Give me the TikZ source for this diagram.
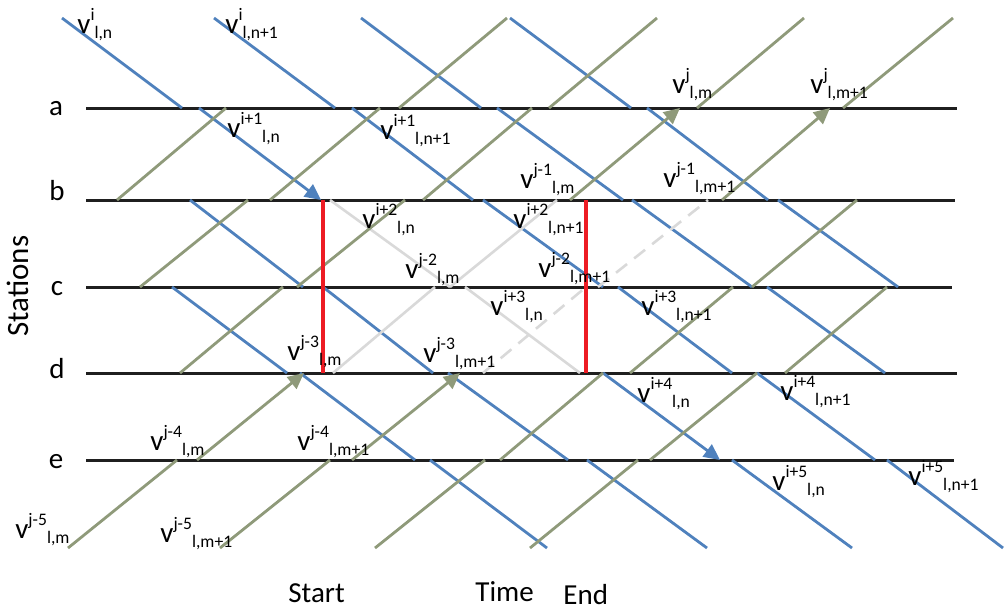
\documentclass[tikz,border=0pt]{standalone}
\usepackage{fontspec}
\setmainfont{Carlito}
\usetikzlibrary{arrows.meta}
\definecolor{trainblue}{RGB}{79,129,189}
\definecolor{trainolive}{RGB}{143,154,122}
\definecolor{cutred}{RGB}{237,28,36}
\definecolor{ghostgray}{RGB}{217,217,217}
\newcommand{\scriptsz}{\fontsize{8.8}{9}\selectfont}
\newcommand{\vlab}[2]{v\raisebox{6.5pt}{\scriptsz #1}\raisebox{-2.5pt}{\scriptsz #2}}

\begin{document}
\begin{tikzpicture}[x=0.5pt,y=-0.5pt,font=\fontsize{14.5}{16}\selectfont,
    every node/.style={inner sep=0pt},
    station/.style={line width=1.5pt,black!88},
    blueleg/.style={line width=1.4pt,trainblue},
    greenleg/.style={line width=1.4pt,trainolive},
    ghostleg/.style={line width=1.3pt,ghostgray},
    cutline/.style={line width=2.2pt,cutred},
    arrowend/.style={-{Triangle[length=8pt,width=7.5pt]}},
    vlabel/.style={anchor=base west}]
    \useasboundingbox (0,0) rectangle (1004,611);
    % stations
    \node[anchor=base] (sa) at (56,115) {a};
    \node[anchor=base] (sb) at (57,200) {b};
    \node[anchor=base] (sc) at (57,295) {c};
    \node[anchor=base] (sd) at (57,378) {d};
    \node[anchor=base] (se) at (56,468) {e};
    \node[rotate=90,font=\fontsize{15.5}{17}\selectfont] (stations) at (18,286) {Stations};
    \draw[station] (86,108) -- (957,108);
    \draw[station] (86,200) -- (955,200);
    \draw[station] (86,287) -- (952,287);
    \draw[station] (86,373) -- (957,373);
    \draw[station] (86,460) -- (954,460);
    % trains running down
    \draw[blueleg,arrowend] (62,18) -- (182,108) (199,108) -- (321,200);
    \draw[ghostleg] (330,200) -- (450,287) (465,287) -- (580,373);
    \draw[blueleg,arrowend] (603,373) -- (720,460);
    \draw[blueleg] (732,460) -- (852,548);
    \draw[blueleg] (214,18) -- (335,108) (352,108) -- (473,200) (483,200) -- (603,287)
      (618,287) -- (732,373) (757,373) -- (875,460) (887,460) -- (1003,548);
    \draw[blueleg] (361,18) -- (481,108) (497,108) -- (623,200) (632,200) -- (752,287)
      (767,287) -- (885,373);
    \draw[blueleg] (510,18) -- (631,108) (647,108) -- (768,200) (778,200) -- (898,287);
    \draw[blueleg] (190,200) -- (303,287) (323,287) -- (433,373) (448,373) -- (568,460)
      (587,460) -- (707,548);
    \draw[blueleg] (172,287) -- (287,373) (300,373) -- (415,460) (430,460) -- (547,548);
    % trains running up
    \draw[greenleg,arrowend] (68,548) -- (177,460) (197,460) -- (304,373);
    \draw[ghostleg] (333,373) -- (435,287) (450,287) -- (557,200);
    \draw[greenleg,arrowend] (570,200) -- (680,108);
    \draw[greenleg] (697,108) -- (804,18);
    \draw[greenleg,arrowend] (220,548) -- (330,460) (352,460) -- (460,373);
    \draw[ghostleg,dash pattern=on 7pt off 4.5pt] (483,373) -- (586,287) (598,287) -- (708,200);
    \draw[greenleg,arrowend] (722,200) -- (830,108);
    \draw[greenleg] (843,108) -- (953,18);
    \draw[greenleg] (375,548) -- (485,460) (500,460) -- (603,373) (630,373) -- (733,287)
      (752,287) -- (857,200);
    \draw[greenleg] (530,548) -- (638,460) (650,460) -- (757,373) (785,373) -- (887,287);
    \draw[greenleg] (180,373) -- (283,287) (297,287) -- (405,200) (423,200) -- (532,108)
      (549,108) -- (657,18);
    \draw[greenleg] (140,287) -- (248,200) (270,200) -- (380,108) (399,108) -- (507,18);
    \draw[greenleg] (117,200) -- (226,108);
    % interval bounds
    \draw[cutline] (323,200) -- (323,373);
    \draw[cutline] (586,200) -- (586,373);
    % labels
    \node[vlabel] (vi-n) at (77,33) {\vlab{i}{l,n}};
    \node[vlabel] (vi-n1) at (225,33) {\vlab{i}{l,n+1}};
    \node[vlabel] (vi1-n) at (227,137) {\vlab{i+1}{l,n}};
    \node[vlabel] (vi1-n1) at (380,139) {\vlab{i+1}{l,n+1}};
    \node[vlabel] (vj-m) at (672,93) {\vlab{j}{l,m}};
    \node[vlabel] (vj-m1) at (810,93) {\vlab{j}{l,m+1}};
    \node[vlabel] (vj1-m) at (520,188) {\vlab{j-1}{l,m}};
    \node[vlabel] (vj1-m1) at (663,187) {\vlab{j-1}{l,m+1}};
    \node[vlabel] (vi2-n) at (362,228) {\vlab{i+2}{l,n}};
    \node[vlabel] (vi2-n1) at (513,228) {\vlab{i+2}{l,n+1}};
    \node[vlabel] (vj2-m) at (405,278) {\vlab{j-2}{l,m}};
    \node[vlabel] (vj2-m1) at (538,277) {\vlab{j-2}{l,m+1}};
    \node[vlabel] (vi3-n) at (490,315) {\vlab{i+3}{l,n}};
    \node[vlabel] (vi3-n1) at (641,315) {\vlab{i+3}{l,n+1}};
    \node[vlabel] (vj3-m) at (287,360) {\vlab{j-3}{l,m}};
    \node[vlabel] (vj3-m1) at (423,362) {\vlab{j-3}{l,m+1}};
    \node[vlabel] (vi4-n) at (637,402) {\vlab{i+4}{l,n}};
    \node[vlabel] (vi4-n1) at (780,400) {\vlab{i+4}{l,n+1}};
    \node[vlabel] (vj4-m) at (150,450) {\vlab{j-4}{l,m}};
    \node[vlabel] (vj4-m1) at (297,450) {\vlab{j-4}{l,m+1}};
    \node[vlabel] (vi5-n) at (772,490) {\vlab{i+5}{l,n}};
    \node[vlabel] (vi5-n1) at (908,485) {\vlab{i+5}{l,n+1}};
    \node[vlabel] (vj5-m) at (15,538) {\vlab{j-5}{l,m}};
    \node[vlabel] (vj5-m1) at (160,542) {\vlab{j-5}{l,m+1}};
    % time axis
    \node[anchor=base west] (start) at (288,602) {Start};
    \node[anchor=base west] (time) at (475,601) {Time};
    \node[anchor=base west] (end) at (563,604) {End};
\end{tikzpicture}
\end{document}
